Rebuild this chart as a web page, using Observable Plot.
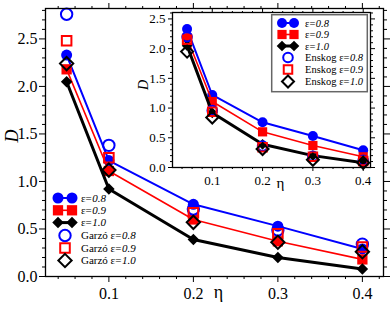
<!DOCTYPE html>
<html><head><meta charset="utf-8">
<script src="https://cdn.jsdelivr.net/npm/d3@7"></script>
<script src="https://cdn.jsdelivr.net/npm/@observablehq/plot@0.6"></script>
<style>
html,body{margin:0;padding:0;background:#fff}
#wrap{position:relative;width:390px;height:309px;overflow:hidden;background:#fff}
#wrap svg{position:absolute}
#wrap svg text{font-family:"Liberation Serif","Times New Roman",Times,serif}
</style></head><body><div id="wrap"></div>
<script>
// ---- data ----
const eta = [0.05, 0.1, 0.2, 0.3, 0.4];
const simEps08 = [2.33, 1.22, 0.76, 0.53, 0.29];
const simEps09 = [2.18, 1.11, 0.60, 0.37, 0.18];
const simEps10 = [2.05, 0.92, 0.39, 0.20, 0.08];
const garzoEps08 = [2.76, 1.38, 0.71, 0.49, 0.34];
const garzoEps09 = [2.48, 1.25, 0.67, 0.45, 0.31];
const garzoEps10 = [2.24, 1.12, 0.57, 0.36, 0.26];
const enskogEps08 = [2.20, 0.96, 0.36, 0.19, 0.12];
const enskogEps09 = [2.15, 0.94, 0.34, 0.18, 0.11];
const enskogEps10 = [1.95, 0.84, 0.31, 0.13, 0.08];
const xTickLabels = ["0.1", "0.2", "0.3", "0.4"];
const yTickLabels = ["0.0", "0.5", "1.0", "1.5", "2.0", "2.5"];
const epsLabels = ["0.8", "0.9", "1.0"];
const mainPrefix = "Garzó ";
const insetPrefix = "Enskog ";

// ---- styling ----
const serif = "'Liberation Serif','Times New Roman',Times,serif";
const blue = "#0000ff", red = "#ff0000", black = "#000000";
const colors = [blue, red, black];
const lineWidths = [2, 1.6, 3];
const symbols = ["circle", "square", "diamond2"];
const d3symbols = [d3.symbolCircle, d3.symbolSquare, d3.symbolDiamond2];

const rows = v => eta.map((x, i) => ({x, y: v[i]}));
const xTicks = xTickLabels.map(Number);
const yTicks = yTickLabels.map(Number);

function minorTicks(step, lo, hi, majorEvery) {
  const out = [];
  for (let i = Math.ceil(lo / step - 1e-9); i * step <= hi + 1e-9; i++) {
    if (i % majorEvery !== 0) out.push(+(i * step).toFixed(4));
  }
  return out;
}

function axisMarks(xd, yd, o) {
  const xMin = minorTicks(0.02, xd[0], xd[1], 5);
  const yMin = minorTicks(0.1, yd[0], yd[1], 5);
  const none = () => "";
  const fmt = d3.format(".1f");
  return [
    Plot.axisX(xTicks, {anchor: "bottom", tickSize: o.major, tickPadding: o.xpad, tickFormat: fmt, fontSize: o.fs, fontFamily: serif, label: null}),
    Plot.axisX(xMin, {anchor: "bottom", tickSize: o.minor, tickFormat: none, label: null}),
    Plot.axisX(xTicks, {anchor: "top", tickSize: o.major, tickFormat: none, label: null}),
    Plot.axisX(xMin, {anchor: "top", tickSize: o.minor, tickFormat: none, label: null}),
    Plot.axisY(yTicks, {anchor: "left", tickSize: o.major, tickPadding: o.ypad, tickFormat: fmt, fontSize: o.fs, fontFamily: serif, label: null}),
    Plot.axisY(yMin, {anchor: "left", tickSize: o.minor, tickFormat: none, label: null}),
    Plot.axisY(yTicks, {anchor: "right", tickSize: o.major, tickFormat: none, label: null}),
    Plot.axisY(yMin, {anchor: "right", tickSize: o.minor, tickFormat: none, label: null})
  ];
}

function seriesMarks(simSets, theorySets, rFilled, rOpen) {
  const m = [];
  simSets.forEach((v, i) => {
    m.push(Plot.line(rows(v), {x: "x", y: "y", stroke: colors[i], strokeWidth: lineWidths[i]}));
    m.push(Plot.dot(rows(v), {x: "x", y: "y", fill: colors[i], stroke: "none", symbol: symbols[i], r: rFilled[i]}));
  });
  theorySets.forEach((v, i) => {
    m.push(Plot.dot(rows(v), {x: "x", y: "y", fill: "none", stroke: colors[i], strokeWidth: 2, symbol: symbols[i], r: rOpen[i]}));
  });
  return m;
}

// ---- main chart ----
const mainX = [0.025, 0.425], mainY = [0, 2.82];
const main = Plot.plot({
  width: 390, height: 309,
  marginLeft: 45, marginRight: 7, marginTop: 8, marginBottom: 33,
  x: {domain: mainX}, y: {domain: mainY},
  style: {fontFamily: serif, fontSize: "16px", background: "white", color: "black", overflow: "visible"},
  marks: [
    ...seriesMarks([simEps08, simEps09, simEps10], [garzoEps08, garzoEps09, garzoEps10], [5.5, 5.8, 5.2], [5.7, 5.4, 6]),
    Plot.frame({stroke: "black", strokeWidth: 1.3}),
    ...axisMarks(mainX, mainY, {major: 6, minor: 3, xpad: 5, ypad: 2, fs: 16}),
    Plot.text(["D"], {text: d => d, frameAnchor: "left", dx: -33, rotate: -90, fontStyle: "italic", fontSize: 18, fontFamily: serif}),
    Plot.text(["η"], {text: d => d, frameAnchor: "bottom", dx: 4, dy: 21, fontSize: 18, fontFamily: serif})
  ]
});
main.style.left = "0px"; main.style.top = "0px";
document.getElementById("wrap").appendChild(main);

function drawLegend(svg, ox, oy, rowsY, xA, xB, xText, prefix, fs, rF, rO) {
  const g = d3.select(svg).append("g").attr("transform", `translate(${-ox},${-oy})`)
    .attr("text-anchor", "start").attr("font-family", serif);
  const label = (y, pre, e) => {
    const t1 = g.append("text").attr("x", xText).attr("y", y).attr("dy", "0.35em")
      .attr("text-anchor", "start").attr("font-size", fs).attr("fill", "black").text(pre + "ε=");
    const w = t1.node().getComputedTextLength();
    g.append("text").attr("x", xText + w + 0.5).attr("y", y).attr("dy", "0.35em")
      .attr("text-anchor", "start").attr("font-size", fs).attr("font-style", "italic")
      .attr("fill", "black").text(e);
  };
  epsLabels.forEach((e, i) => {
    const y = rowsY[i];
    g.append("line").attr("x1", xA).attr("x2", xB).attr("y1", y).attr("y2", y)
      .attr("stroke", colors[i]).attr("stroke-width", lineWidths[i]);
    [xA, xB].forEach(x => g.append("path").attr("d", d3.symbol(d3symbols[i], Math.PI * rF[i] * rF[i])())
      .attr("transform", `translate(${x},${y})`).attr("fill", colors[i]));
    label(y, "", e);
  });
  epsLabels.forEach((e, i) => {
    const y = rowsY[i + 3];
    g.append("path").attr("d", d3.symbol(d3symbols[i], Math.PI * rO[i] * rO[i])())
      .attr("transform", `translate(${(xA + xB) / 2},${y})`).attr("fill", "none")
      .attr("stroke", colors[i]).attr("stroke-width", 2);
    label(y, prefix, e);
  });
  return g;
}
drawLegend(main, 0, 0, [198, 210.3, 222.6, 235.5, 248, 260.5], 58, 72, 81, mainPrefix, 11, [5.5, 5.8, 5.2], [5.7, 5.4, 6]);

// ---- inset chart ----
const insetX = [0.021, 0.4145], insetY = [0, 2.608];
const inset = Plot.plot({
  width: 248, height: 185,
  marginLeft: 42, marginRight: 8, marginTop: 8, marginBottom: 22,
  x: {domain: insetX}, y: {domain: insetY},
  style: {fontFamily: serif, fontSize: "13px", background: "transparent", color: "black", overflow: "visible"},
  marks: [
    Plot.frame({fill: "white", stroke: "none"}),
    ...seriesMarks([simEps08, simEps09, simEps10], [enskogEps08, enskogEps09, enskogEps10], [5, 5.2, 4.8], [4.8, 4.8, 5.4]),
    Plot.frame({stroke: "black", strokeWidth: 1.3}),
    ...axisMarks(insetX, insetY, {major: 4, minor: 2, xpad: 4, ypad: 3, fs: 13}),
    Plot.text(["D"], {text: d => d, frameAnchor: "left", dx: -29, rotate: -90, fontStyle: "italic", fontSize: 14, fontFamily: serif}),
    Plot.text(["η"], {text: d => d, frameAnchor: "bottom", dx: 9, dy: 20, fontSize: 15, fontFamily: serif})
  ]
});
inset.style.left = "130px"; inset.style.top = "4px";
document.getElementById("wrap").appendChild(inset);

const lg = drawLegend(inset, 130, 4, [23, 34.5, 46, 57.5, 69.5, 81.5], 282, 294, 305, insetPrefix, 10.5, [5, 5.2, 4.8], [4.8, 4.8, 5.4]);
lg.insert("rect", ":first-child").attr("x", 271.7).attr("y", 14.7).attr("width", 95.6).attr("height", 77)
  .attr("fill", "white").attr("stroke", "#666").attr("stroke-width", 1.5);
</script></body></html>
